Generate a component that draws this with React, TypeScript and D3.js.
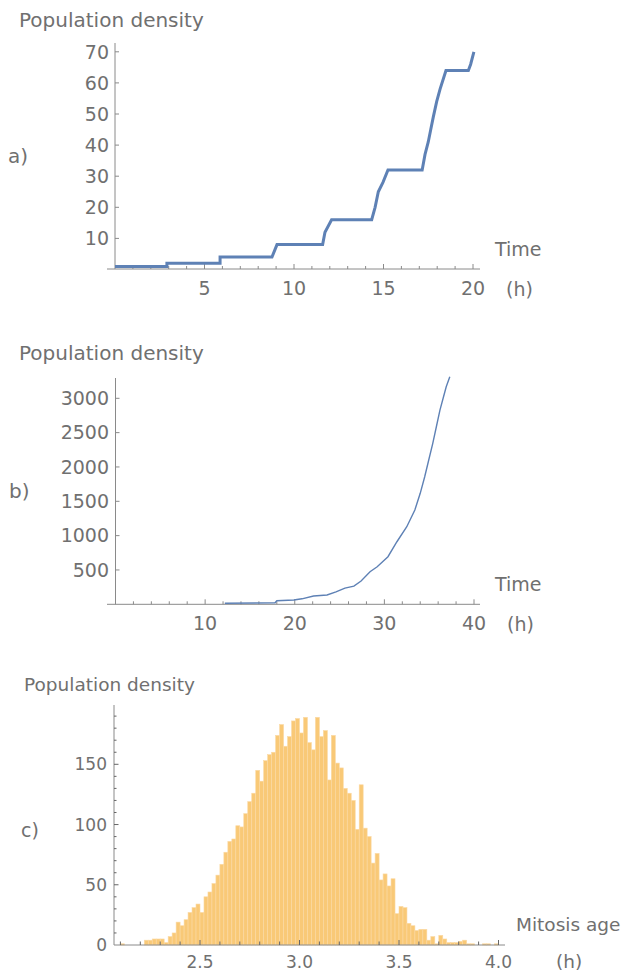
import React from 'react';
import { scaleLinear, line } from 'd3';

// panel a: population count over time (h)
const timeA = [0, 2.9, 2.9, 5.87, 5.87, 8.77, 9.05, 11.6, 11.73, 12.1, 14.34, 14.53, 14.71, 14.97, 15.25, 17.16, 17.32, 17.5, 17.64, 17.78, 17.97, 18.16, 18.49, 19.74, 19.87, 20.05];
const popA = [1, 1, 2, 2, 4, 4, 8, 8, 12, 16, 16, 20, 25, 28, 32, 32, 37, 41, 45, 49, 54, 58, 64, 64, 66, 70];
const ticksAX = [5, 10, 15, 20];
const ticksAY = [10, 20, 30, 40, 50, 60, 70];

// panel b: longer run
const timeB = [12.2, 17.8, 18, 19.9, 20.8, 22.1, 23.6, 24.6, 25.6, 26.6, 27.4, 28.4, 29.2, 30.4, 31.4, 32.5, 33.4, 34.0, 34.5, 34.95, 35.4, 35.8, 36.2, 36.6, 36.9, 37.3];
const popB = [15, 23, 52, 63, 80, 121, 135, 180, 235, 265, 340, 475, 547, 693, 911, 1130, 1373, 1616, 1858, 2101, 2344, 2586, 2829, 3023, 3168, 3314];
const ticksBX = [10, 20, 30, 40];
const ticksBY = [500, 1000, 1500, 2000, 2500, 3000];

// panel c: histogram of mitosis age, bins of 0.02 h starting at 2.10
const ageBinStart = 2.1;
const ageBinWidth = 0.02;
const ageCounts = [
  1, 0, 0, 0, 0, 0, 4, 4, 5, 5, 5, 2, 7, 10, 19, 16, 21, 27, 31, 34,
  27, 40, 44, 51, 58, 67, 77, 86, 88, 99, 98, 109, 119, 126, 145, 136, 153, 158, 160, 174,
  183, 165, 173, 186, 188, 176, 189, 168, 162, 189, 173, 178, 137, 174, 151, 147, 130, 126, 120, 96,
  133, 97, 90, 68, 76, 54, 59, 49, 55, 26, 32, 31, 18, 16, 12, 13, 13, 4, 7, 1,
  8, 5, 2, 2, 2, 3, 4, 1, 1, 0, 0, 1, 1, 0, 1,
];
const ticksCX = [2.5, 3.0, 3.5, 4.0];
const ticksCY = [0, 50, 100, 150];

const FONT = '"DejaVu Sans", sans-serif';
const TXT = '#707070';
const AX = '#8a8a8a';
const BLUE = '#5e81b5';

const range = (a: number, b: number, s: number) => {
  const out: number[] = [];
  for (let v = a; v <= b + 1e-9; v += s) out.push(+v.toFixed(4));
  return out;
};

const App = () => {
  // ---- panel a
  const xA = scaleLinear().domain([0, 20]).range([115, 473]);
  const yA = scaleLinear().domain([0, 70]).range([269.5, 51.8]);
  const pathA = line<number>().x((d, i) => xA(timeA[i])).y((d) => yA(d))(popA);

  // ---- panel b
  const xB = scaleLinear().domain([0, 40]).range([115.5, 474]);
  const yB = scaleLinear().domain([0, 3000]).range([604.3, 398.3]);
  const pathB = line<number>().x((d, i) => xB(timeB[i])).y((d) => yB(d))(popB);

  // ---- panel c
  const xC = scaleLinear().domain([2, 4]).range([100.5, 498.5]);
  const yC = scaleLinear().domain([0, 150]).range([945, 764.3]);

  return (
    <svg width={626} height={973} style={{ position: 'absolute', left: 0, top: 0, background: '#fff' }} fontFamily={FONT}>
      {/* ============ a) ============ */}
      <text x={19} y={27} fontSize={20} fill={TXT}>Population density</text>
      <text x={8} y={163} fontSize={20} fill={TXT}>a)</text>
      <line x1={107} x2={480} y1={269} y2={269} stroke={AX} />
      <line x1={115} x2={115} y1={43} y2={269} stroke={AX} />
      {range(1, 20, 1).map((t) => (
        <line key={'ma' + t} x1={xA(t)} x2={xA(t)} y1={269} y2={t % 5 === 0 ? 264 : 266} stroke={AX} />
      ))}
      {ticksAX.map((t) => (
        <text key={'ax' + t} x={xA(t)} y={295} fontSize={19} fill={TXT} textAnchor="middle">{t}</text>
      ))}
      {ticksAY.map((v) => (
        <g key={'ay' + v}>
          <line x1={115} x2={119} y1={yA(v)} y2={yA(v)} stroke={AX} />
          <text x={109} y={yA(v)} dy="0.36em" fontSize={19} fill={TXT} textAnchor="end">{v}</text>
        </g>
      ))}
      <path d={pathA ?? ''} fill="none" stroke={BLUE} strokeWidth={3} />
      <text x={495} y={256} fontSize={19} fill={TXT}>Time</text>
      <text x={506} y={296} fontSize={19} fill={TXT}>(h)</text>

      {/* ============ b) ============ */}
      <text x={19} y={360} fontSize={20} fill={TXT}>Population density</text>
      <text x={9} y={498} fontSize={20} fill={TXT}>b)</text>
      <line x1={107} x2={480} y1={604.3} y2={604.3} stroke={AX} />
      <line x1={115.5} x2={115.5} y1={378} y2={604.3} stroke={AX} />
      {range(2, 40, 2).map((t) => (
        <line key={'mb' + t} x1={xB(t)} x2={xB(t)} y1={604.3} y2={t % 10 === 0 ? 599.3 : 601.3} stroke={AX} />
      ))}
      {ticksBX.map((t) => (
        <text key={'bx' + t} x={xB(t)} y={630} fontSize={19} fill={TXT} textAnchor="middle">{t}</text>
      ))}
      {ticksBY.map((v) => (
        <g key={'by' + v}>
          <line x1={115.5} x2={119.5} y1={yB(v)} y2={yB(v)} stroke={AX} />
          <text x={109} y={yB(v)} dy="0.36em" fontSize={19} fill={TXT} textAnchor="end">{v}</text>
        </g>
      ))}
      <path d={pathB ?? ''} fill="none" stroke={BLUE} strokeWidth={1.4} />
      <text x={495} y={591} fontSize={19} fill={TXT}>Time</text>
      <text x={507} y={631} fontSize={19} fill={TXT}>(h)</text>

      {/* ============ c) ============ */}
      <text x={24} y={691} fontSize={18.5} fill={TXT}>Population density</text>
      <text x={21} y={837} fontSize={19} fill={TXT}>c)</text>
      {ageCounts.map((c, i) => {
        if (!c) return null;
        const x0 = xC(ageBinStart + i * ageBinWidth);
        const x1 = xC(ageBinStart + (i + 1) * ageBinWidth);
        return (
          <rect key={'h' + i} x={x0} y={yC(c)} width={x1 - x0} height={yC(0) - yC(c)}
            fill="#f9c977" stroke="#fbd9a4" strokeWidth={0.6} />
        );
      })}
      <line x1={114} x2={505} y1={945} y2={945} stroke={AX} />
      <line x1={114} x2={114} y1={705} y2={945} stroke={AX} />
      {range(2.1, 4.0, 0.1).map((t) => (
        <line key={'mc' + t} x1={xC(t)} x2={xC(t)} y1={945} y2={Math.abs(t * 2 - Math.round(t * 2)) < 1e-6 ? 940 : 941.5} stroke="#666" />
      ))}
      {range(10, 190, 10).map((v) => (
        <line key={'mcy' + v} x1={114} x2={v % 50 === 0 ? 118.5 : 116.5} y1={yC(v)} y2={yC(v)} stroke="#666" />
      ))}
      {ticksCX.map((t) => (
        <text key={'cx' + t} x={xC(t)} y={968} fontSize={17} fill={TXT} textAnchor="middle">{t.toFixed(1)}</text>
      ))}
      {ticksCY.map((v) => (
        <text key={'cy' + v} x={107} y={yC(v)} dy="0.36em" fontSize={17} fill={TXT} textAnchor="end">{v}</text>
      ))}
      <text x={516} y={931} fontSize={18.5} fill={TXT}>Mitosis age</text>
      <text x={556} y={968} fontSize={18.5} fill={TXT}>(h)</text>
    </svg>
  );
};

export default App;
